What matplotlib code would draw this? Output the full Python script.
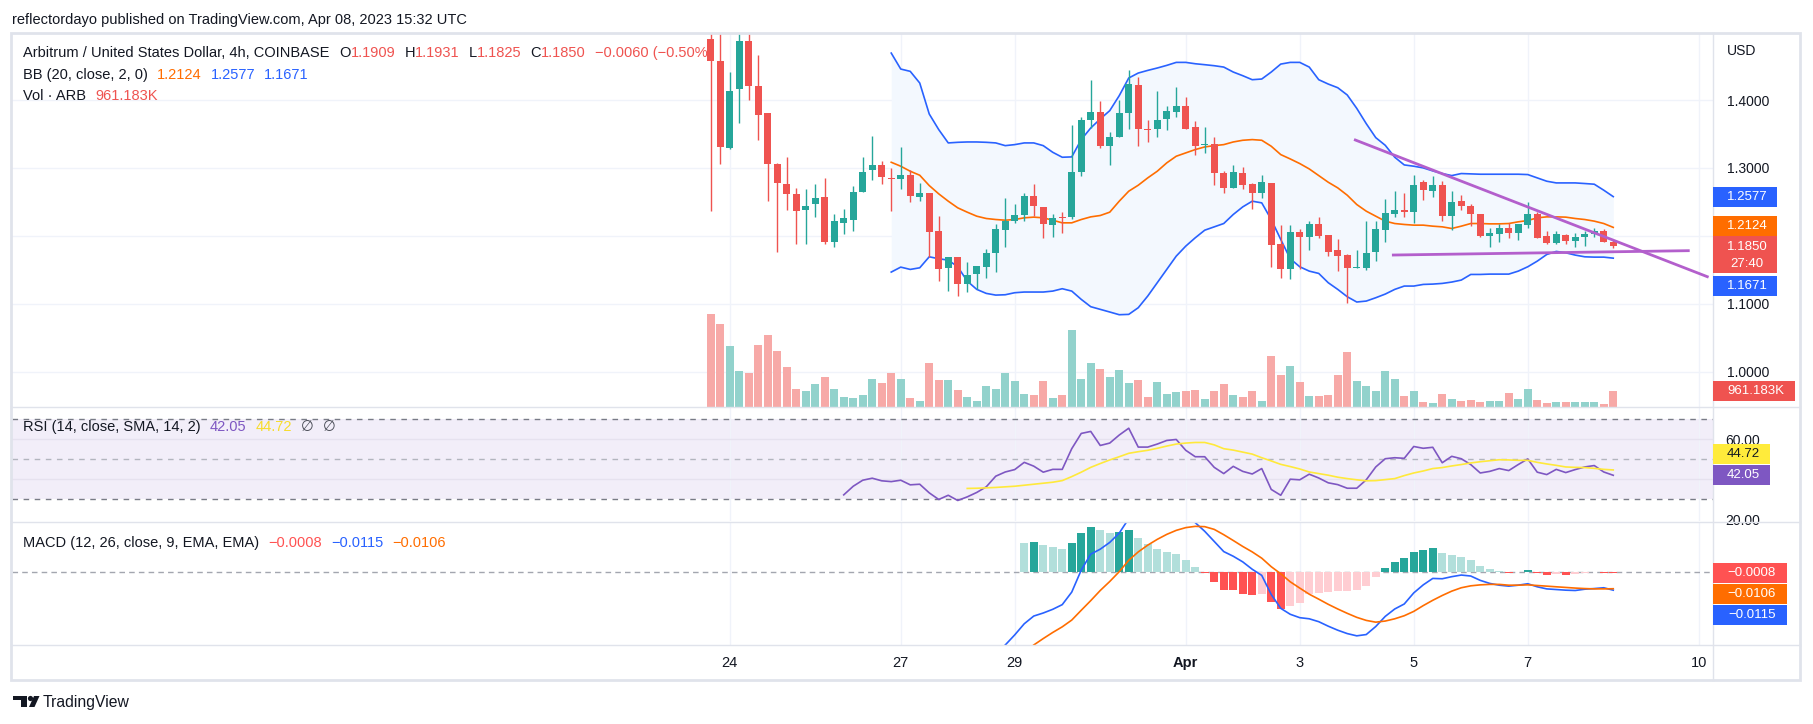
import numpy as np
import matplotlib.pyplot as plt
from matplotlib.patches import Rectangle, Polygon, Circle

plt.rcParams['font.family'] = ['Liberation Sans', 'DejaVu Sans']

# ARB/USD 4h candles, first candle = Mar 23 16:00 UTC
opens = [1.4902, 1.4578, 1.3289, 1.4167, 1.4873, 1.4211, 1.3814, 1.3064, 1.2770, 1.2623,
         1.2377, 1.2466, 1.2578, 1.1907, 1.2196, 1.2240, 1.2642, 1.2966, 1.3049, 1.2858,
         1.2833, 1.2892, 1.2569, 1.2637, 1.2064, 1.1525, 1.1681, 1.1289, 1.1431, 1.1539,
         1.1745, 1.2083, 1.2216, 1.2304, 1.2593, 1.2431, 1.2162, 1.2284, 1.2270, 1.2936,
         1.3701, 1.3828, 1.3328, 1.3451, 1.3804, 1.4225, 1.3578, 1.3569, 1.3716, 1.3828,
         1.3917, 1.3608, 1.3338, 1.3358, 1.2931, 1.2701, 1.2931, 1.2760, 1.2627, 1.2784,
         1.1873, 1.1510, 1.2049, 1.1980, 1.2167, 1.2005, 1.1784, 1.1711, 1.1525, 1.1525,
         1.1760, 1.2083, 1.2319, 1.2387, 1.2348, 1.2799, 1.2657, 1.2745, 1.2289, 1.2520,
         1.2446, 1.2314, 1.1995, 1.2020, 1.2118, 1.2039, 1.2157, 1.2314, 1.1990, 1.1897,
         1.2015, 1.1922, 1.1985, 1.2020, 1.2064, 1.1909]
highs = [1.5000, 1.5100, 1.4412, 1.5050, 1.5000, 1.4667, 1.3814, 1.3074, 1.3157, 1.2706,
         1.2696, 1.2770, 1.2858, 1.2314, 1.2402, 1.2740, 1.3167, 1.3475, 1.3108, 1.3005,
         1.3304, 1.2966, 1.2779, 1.2637, 1.2299, 1.1690, 1.1690, 1.1608, 1.1549, 1.1809,
         1.2167, 1.2559, 1.2475, 1.2637, 1.2770, 1.2431, 1.2314, 1.2353, 1.3632, 1.3750,
         1.4299, 1.3980, 1.3534, 1.4005, 1.4446, 1.4338, 1.3711, 1.4137, 1.3917, 1.4196,
         1.4049, 1.3686, 1.3608, 1.3461, 1.2961, 1.3049, 1.3010, 1.2779, 1.2902, 1.2784,
         1.2152, 1.2152, 1.2093, 1.2211, 1.2284, 1.2005, 1.1946, 1.1730, 1.1789, 1.2211,
         1.2211, 1.2549, 1.2667, 1.2627, 1.2902, 1.2828, 1.2887, 1.2804, 1.2657, 1.2608,
         1.2471, 1.2328, 1.2118, 1.2176, 1.2191, 1.2176, 1.2495, 1.2353, 1.2078, 1.2078,
         1.2029, 1.2044, 1.2064, 1.2118, 1.2103, 1.1931]
lows = [1.2363, 1.3064, 1.3280, 1.3657, 1.4005, 1.3407, 1.2510, 1.1760, 1.2387, 1.1873,
        1.1873, 1.2275, 1.1873, 1.1828, 1.2034, 1.2064, 1.2642, 1.2819, 1.2760, 1.2363,
        1.2696, 1.2495, 1.2510, 1.1691, 1.1333, 1.1186, 1.1113, 1.1172, 1.1221, 1.1377,
        1.1466, 1.1833, 1.2190, 1.2216, 1.2289, 1.1966, 1.1985, 1.2044, 1.2245, 1.2877,
        1.3583, 1.3289, 1.3049, 1.3451, 1.3578, 1.3319, 1.3377, 1.3451, 1.3554, 1.3745,
        1.3569, 1.3186, 1.3216, 1.2745, 1.2627, 1.2701, 1.2686, 1.2392, 1.2554, 1.1539,
        1.1377, 1.1363, 1.1510, 1.1789, 1.1966, 1.1701, 1.1480, 1.1010, 1.1520, 1.1500,
        1.1627, 1.1907, 1.2275, 1.2275, 1.2186, 1.2534, 1.2569, 1.2216, 1.2083, 1.2377,
        1.2142, 1.1985, 1.1833, 1.1907, 1.1971, 1.1936, 1.2118, 1.1961, 1.1873, 1.1877,
        1.1877, 1.1833, 1.1848, 1.1985, 1.1907, 1.1825]
closes = [1.4569, 1.3304, 1.4137, 1.4873, 1.4201, 1.3784, 1.3064, 1.2775, 1.2613, 1.2363,
          1.2441, 1.2564, 1.1907, 1.2211, 1.2255, 1.2652, 1.2946, 1.3049, 1.2863, 1.2833,
          1.2902, 1.2583, 1.2637, 1.2054, 1.1510, 1.1681, 1.1289, 1.1426, 1.1549, 1.1740,
          1.2093, 1.2225, 1.2309, 1.2593, 1.2436, 1.2172, 1.2265, 1.2255, 1.2946, 1.3711,
          1.3828, 1.3328, 1.3461, 1.3814, 1.4240, 1.3569, 1.3554, 1.3711, 1.3843, 1.3917,
          1.3578, 1.3328, 1.3358, 1.2922, 1.2701, 1.2946, 1.2745, 1.2627, 1.2799, 1.1863,
          1.1510, 1.2049, 1.1980, 1.2181, 1.1990, 1.1760, 1.1701, 1.1525, 1.1539, 1.1740,
          1.2093, 1.2343, 1.2387, 1.2358, 1.2745, 1.2672, 1.2745, 1.2289, 1.2505, 1.2436,
          1.2319, 1.1995, 1.2044, 1.2108, 1.2039, 1.2167, 1.2314, 1.1961, 1.1897, 1.2020,
          1.1922, 1.1985, 1.2029, 1.2064, 1.1907, 1.1850]
volume_k = [5665, 5051, 3722, 2188, 2066, 3783, 4397, 3415, 2434, 1084,
            961, 1391, 1820, 1084, 593, 532, 716, 1697, 1452, 2066,
            1697, 532, 348, 2679, 1636, 1636, 1023, 593, 348, 1268,
            1084, 2066, 1575, 777, 716, 1575, 532, 716, 4683, 1697,
            2679, 2311, 1820, 2250, 1452, 1636, 593, 1513, 777, 900,
            961, 1023, 470, 961, 1391, 716, 593, 961, 348, 3108,
            1943, 2495, 1513, 654, 654, 716, 1943, 3354, 1575, 1268,
            961, 2188, 1697, 654, 961, 286, 225, 777, 470, 348,
            409, 286, 348, 348, 838, 470, 1084, 409, 225, 286,
            286, 286, 286, 286, 164, 961.183]
change_text = '\u22120.0060 (\u22120.50%)'
countdown = '27:40'

# Bollinger Bands (20, 2), from candle 19
bb_start = 19
bb_upper = [1.4691, 1.4456, 1.4422, 1.4250, 1.3794, 1.3564, 1.3368, 1.3377, 1.3382, 1.3382,
            1.3377, 1.3368, 1.3328, 1.3343, 1.3368, 1.3368, 1.3328, 1.3230, 1.3157, 1.3162,
            1.3417, 1.3588, 1.3721, 1.3843, 1.4064, 1.4324, 1.4397, 1.4436, 1.4471, 1.4510,
            1.4554, 1.4554, 1.4534, 1.4520, 1.4505, 1.4485, 1.4412, 1.4358, 1.4299, 1.4309,
            1.4412, 1.4529, 1.4554, 1.4554, 1.4485, 1.4299, 1.4235, 1.4181, 1.4074, 1.3877,
            1.3652, 1.3446, 1.3333, 1.3157, 1.3044, 1.3025, 1.3000, 1.2956, 1.2917, 1.2887,
            1.2917, 1.2912, 1.2907, 1.2907, 1.2907, 1.2907, 1.2907, 1.2902, 1.2853, 1.2804,
            1.2779, 1.2779, 1.2779, 1.2770, 1.2760, 1.2672, 1.2577]
bb_basis = [1.3083, 1.3025, 1.2951, 1.2892, 1.2740, 1.2618, 1.2510, 1.2412, 1.2348, 1.2289,
            1.2255, 1.2240, 1.2230, 1.2240, 1.2265, 1.2275, 1.2265, 1.2230, 1.2191, 1.2191,
            1.2240, 1.2279, 1.2299, 1.2348, 1.2510, 1.2657, 1.2745, 1.2853, 1.2951, 1.3074,
            1.3172, 1.3221, 1.3270, 1.3309, 1.3328, 1.3343, 1.3382, 1.3407, 1.3417, 1.3407,
            1.3319, 1.3196, 1.3132, 1.3064, 1.2985, 1.2887, 1.2789, 1.2706, 1.2598, 1.2461,
            1.2363, 1.2289, 1.2216, 1.2181, 1.2167, 1.2157, 1.2157, 1.2142, 1.2132, 1.2108,
            1.2142, 1.2181, 1.2181, 1.2176, 1.2176, 1.2181, 1.2206, 1.2225, 1.2265, 1.2279,
            1.2279, 1.2275, 1.2255, 1.2240, 1.2216, 1.2181, 1.2124]
bb_lower = [1.1466, 1.1539, 1.1505, 1.1529, 1.1691, 1.1662, 1.1642, 1.1544, 1.1333, 1.1211,
            1.1152, 1.1127, 1.1132, 1.1162, 1.1172, 1.1172, 1.1172, 1.1186, 1.1221, 1.1186,
            1.1064, 1.0956, 1.0917, 1.0878, 1.0838, 1.0843, 1.0941, 1.1113, 1.1309, 1.1505,
            1.1701, 1.1848, 1.1971, 1.2083, 1.2132, 1.2181, 1.2314, 1.2426, 1.2510, 1.2485,
            1.2240, 1.1946, 1.1662, 1.1544, 1.1480, 1.1446, 1.1309, 1.1211, 1.1103, 1.1025,
            1.1039, 1.1088, 1.1142, 1.1211, 1.1260, 1.1260, 1.1284, 1.1289, 1.1299, 1.1319,
            1.1348, 1.1431, 1.1431, 1.1436, 1.1436, 1.1436, 1.1480, 1.1544, 1.1627, 1.1725,
            1.1770, 1.1750, 1.1716, 1.1691, 1.1686, 1.1686, 1.1671]

# RSI (14) and its SMA
rsi_start = 14
rsi = [32.3, 36.6, 39.6, 40.6, 39.3, 38.9, 39.6, 37.3, 37.6, 33.3, 30.0, 32.1,
       29.5, 31.3, 33.5, 36.3, 41.6, 43.7, 44.9, 48.5, 46.6, 43.6,
       45.0, 45.0, 55.3, 62.9, 63.9, 56.9, 58.1, 62.1, 65.5, 56.1,
       56.1, 57.6, 59.4, 59.9, 54.5, 51.3, 51.3, 46.0, 42.9, 46.5,
       44.0, 42.7, 45.4, 35.0, 32.1, 40.1, 39.8, 42.6, 40.7, 38.3,
       37.4, 35.6, 35.6, 39.8, 46.2, 50.3, 50.8, 50.5, 56.4, 55.5,
       56.0, 48.3, 51.5, 50.3, 47.4, 43.2, 44.0, 45.4, 44.4, 47.4,
       50.2, 43.6, 42.4, 45.0, 43.4, 44.9, 46.2, 46.9, 43.7, 42.05]
rsi_ma_start = 27
rsi_ma = [35.5, 35.6, 35.8, 36.0, 36.3, 36.6, 37.1, 37.6, 38.1,
          38.6, 39.4, 41.4, 43.6, 46.0, 47.9, 49.7, 51.3, 53.0, 53.8,
          54.5, 55.5, 56.6, 57.6, 58.1, 58.4, 58.4, 57.2, 55.3, 54.6,
          53.6, 52.6, 50.8, 49.2, 47.5, 46.4, 45.2, 43.7, 42.9, 42.1,
          41.1, 40.4, 39.8, 39.3, 39.4, 39.9, 40.4, 41.9, 43.2, 44.2,
          45.4, 45.9, 46.7, 47.4, 48.2, 48.8, 49.3, 49.8, 49.7, 49.5,
          49.5, 48.5, 47.7, 47.0, 46.2, 46.0, 45.9, 45.5, 45.0, 44.72]

# MACD (12, 26, 9)
macd_start = 30
macd = [-0.0508, -0.0456, -0.0393, -0.0324, -0.0276, -0.0257, -0.0234, -0.0205, -0.0127, 0.0010,
        0.0109, 0.0140, 0.0182, 0.0240, 0.0330, 0.0332, 0.0336, 0.0341, 0.0353, 0.0366,
        0.0345, 0.0305, 0.0251, 0.0188, 0.0125, 0.0096, 0.0061, 0.0015, -0.0023, -0.0142,
        -0.0228, -0.0265, -0.0286, -0.0293, -0.0311, -0.0339, -0.0364, -0.0385, -0.0399, -0.0391,
        -0.0341, -0.0278, -0.0232, -0.0201, -0.0132, -0.0082, -0.0042, -0.0044, -0.0031, -0.0021,
        -0.0027, -0.0054, -0.0073, -0.0084, -0.0090, -0.0084, -0.0075, -0.0094, -0.0107, -0.0111,
        -0.0115, -0.0117, -0.0109, -0.0105, -0.0100, -0.0115]
signal_start = 34
signal = [-0.0456, -0.0416, -0.0378, -0.0343, -0.0301, -0.0240, -0.0180, -0.0117, -0.0061, 0.0000,
          0.0071, 0.0123, 0.0165, 0.0201, 0.0232, 0.0257, 0.0274, 0.0282, 0.0280, 0.0263,
          0.0230, 0.0194, 0.0157, 0.0123, 0.0084, 0.0031, -0.0013, -0.0063, -0.0102, -0.0140,
          -0.0171, -0.0203, -0.0232, -0.0259, -0.0284, -0.0303, -0.0314, -0.0307, -0.0293, -0.0274,
          -0.0247, -0.0211, -0.0178, -0.0148, -0.0121, -0.0100, -0.0088, -0.0082, -0.0079, -0.0079,
          -0.0084, -0.0084, -0.0082, -0.0086, -0.0090, -0.0094, -0.0098, -0.0102, -0.0105, -0.0107,
          -0.0107, -0.0106]
hist_start = 33
hist = [0.0178, 0.0184, 0.0165, 0.0153, 0.0140, 0.0178, 0.0240, 0.0278, 0.0259, 0.0240,
        0.0247, 0.0259, 0.0209, 0.0171, 0.0140, 0.0121, 0.0109, 0.0071, 0.0027, -0.0010,
        -0.0065, -0.0111, -0.0117, -0.0136, -0.0142, -0.0136, -0.0186, -0.0230, -0.0211, -0.0192,
        -0.0136, -0.0134, -0.0124, -0.0122, -0.0120, -0.0111, -0.0086, -0.0036, 0.0021, 0.0061,
        0.0084, 0.0121, 0.0134, 0.0146, 0.0117, 0.0105, 0.0092, 0.0071, 0.0033, 0.0015,
        0.0004, -0.0006, -0.0004, 0.0013, -0.0008, -0.0019, -0.0013, -0.0021, -0.0013, -0.0008,
        -0.0004, -0.0006, -0.0008]

# time axis (candle index of each day label) and drawn trend lines
day_ticks = [2, 20, 32, 50, 62, 74, 86, 104]
day_labels = ['24', '27', '29', 'Apr', '3', '5', '7', '10']
trend_down_x = [67.85, 104.9]
trend_down_y = [1.3411, 1.1398]
trend_flat_x = [71.85, 102.9]
trend_flat_y = [1.1717, 1.1781]

TEXT = '#131722'
GRID = '#f0f3fa'
FRAME = '#e0e3eb'
UP, DOWN = '#26a69a', '#ef5350'
BLUE, ORANGE, PURPLE = '#2962ff', '#ff6d00', '#7e57c2'
TREND = '#b35fcc'

W, H = 1813, 724
fig = plt.figure(figsize=(W / 100, H / 100), dpi=100)


def rect(l, t, r, b):
    return [l / W, 1 - b / H, (r - l) / W, (b - t) / H]


ax = fig.add_axes(rect(12, 34, 1713, 407))
axr = fig.add_axes(rect(12, 407, 1713, 521))
axm = fig.add_axes(rect(12, 522, 1713, 645))

for a in (ax, axr, axm):
    a.set_xlim(-73.55, 105.5)
    for s in a.spines.values():
        s.set_visible(False)
    a.set_xticks(day_ticks)
    a.grid(axis='x', color=GRID, lw=1)
    a.set_axisbelow(True)
    a.tick_params(length=0, labelsize=10, labelcolor=TEXT)
ax.tick_params(labelbottom=False)
axr.tick_params(labelbottom=False)

# ---- price pane ----
idx = np.arange(len(closes))
o, hi, lo, c = map(np.array, (opens, highs, lows, closes))
up = c >= o
cols = np.where(up, UP, DOWN)
bb_x = np.arange(bb_start, bb_start + len(bb_basis))
ax.fill_between(bb_x, bb_upper, bb_lower, color='#f3f8fe', lw=0, zorder=1)
ax.vlines(idx, lo, hi, colors=cols, lw=1, zorder=3)
ax.bar(idx, np.maximum(np.abs(c - o), 0.0012), bottom=np.minimum(o, c), width=0.7,
       color=cols, zorder=3)
ax.plot(bb_x, bb_upper, color=BLUE, lw=1.2, zorder=2)
ax.plot(bb_x, bb_lower, color=BLUE, lw=1.2, zorder=2)
ax.plot(bb_x, bb_basis, color=ORANGE, lw=1.2, zorder=2)
ax.plot(trend_down_x, trend_down_y, color=TREND, lw=2, zorder=4)
ax.plot(trend_flat_x, trend_flat_y, color=TREND, lw=2, zorder=4)

axv = ax.twinx()
axv.bar(idx, volume_k, width=0.86, color=np.where(up, '#92d2cc', '#f7a9a7'))
axv.set_ylim(0, 22830)
axv.axis('off')

ax.set_ylim(0.9479, 1.4972)
ax.yaxis.tick_right()
ax.set_yticks([1.0, 1.1, 1.2, 1.3, 1.4])
ax.set_yticklabels([f'{v:.4f}' for v in [1.0, 1.1, 1.2, 1.3, 1.4]])
ax.tick_params(axis='y', pad=10)
ax.grid(axis='y', color=GRID, lw=1)

# ---- RSI pane ----
axr.set_ylim(19.28, 76.07)
axr.axhspan(30, 70, color='#f2eef9', lw=0, zorder=0)
for lvl in (40, 60):
    axr.axhline(lvl, color='#e6e2ef', lw=1, zorder=0.6)
axr.axhline(70, color='#787b86', lw=1, dashes=(4, 4), zorder=0.7)
axr.axhline(30, color='#787b86', lw=1, dashes=(4, 4), zorder=0.7)
axr.axhline(50, color='#b2b5be', lw=1, dashes=(4, 4), zorder=0.7)
axr.plot(np.arange(rsi_start, rsi_start + len(rsi)), rsi, color=PURPLE, lw=1.2)
axr.plot(np.arange(rsi_ma_start, rsi_ma_start + len(rsi_ma)), rsi_ma, color='#ffe93b', lw=1.2)
axr.yaxis.tick_right()
axr.set_yticks([20, 60])
axr.set_yticklabels(['20.00', '60.00'])
axr.tick_params(axis='y', pad=9)

# ---- MACD pane ----
axm.set_ylim(-0.0456, 0.0309)
axm.set_yticks([])
axm.axhline(0, color='#a3a6af', lw=1, dashes=(4, 3), zorder=0.7)
hist_cols = []
for k, h in enumerate(hist):
    rising = k > 0 and h > hist[k - 1]
    if h >= 0:
        hist_cols.append('#26a69a' if rising else '#b2dfdb')
    else:
        hist_cols.append('#ffcdd2' if rising else '#ff5252')
axm.bar(np.arange(hist_start, hist_start + len(hist)), hist, width=0.8, color=hist_cols)
axm.plot(np.arange(macd_start, macd_start + len(macd)), macd, color=BLUE, lw=1.2)
axm.plot(np.arange(signal_start, signal_start + len(signal)), signal, color=ORANGE, lw=1.2)
axm.set_xticklabels(day_labels)
axm.tick_params(axis='x', pad=8, labelsize=10.5)
axm.get_xticklabels()[3].set_fontweight('bold')

# ---- overlay: frame, legends, axis tags ----
ov = fig.add_axes([0, 0, 1, 1])
ov.set_xlim(0, W)
ov.set_ylim(H, 0)
ov.axis('off')

ov.add_patch(Rectangle((11, 33), 1789, 647, fill=False, ec=FRAME, lw=2))
ov.plot([1713, 1713], [33, 680], color=FRAME, lw=1)
for yy in (407, 521.5, 645):
    ov.plot([11, 1800], [yy, yy], color=FRAME, lw=1)

ov.text(12, 20, 'reflectordayo published on TradingView.com, Apr 08, 2023 15:32 UTC',
        fontsize=10.5, color=TEXT, va='center')
ov.text(1727, 51, 'USD', fontsize=10, color=TEXT, va='center')


def legend(x, y, parts):
    t = ov.text(x, y, parts[0][0], color=parts[0][1], fontsize=10.5, va='center')
    for s, col, gap in parts[1:]:
        t = ov.annotate(s, xy=(1, 0.5), xycoords=t, xytext=(gap, 0), textcoords='offset pixels',
                        va='center', ha='left', color=col, fontsize=10.5)


def fmt(v, n=4):
    return f'{v:.{n}f}'.replace('-', '\u2212')


legend(23, 53, [('Arbitrum / United States Dollar, 4h, COINBASE', TEXT),
                ('O', TEXT, 10), (fmt(opens[-1]), DOWN, 0),
                ('H', TEXT, 9), (fmt(highs[-1]), DOWN, 0),
                ('L', TEXT, 9), (fmt(lows[-1]), DOWN, 0),
                ('C', TEXT, 9), (fmt(closes[-1]), DOWN, 0),
                (change_text, DOWN, 9)])
legend(23, 75, [('BB (20, close, 2, 0)', TEXT), (fmt(bb_basis[-1]), ORANGE, 9),
                (fmt(bb_upper[-1]), BLUE, 9), (fmt(bb_lower[-1]), BLUE, 9)])
legend(23, 96, [('Vol \u00b7 ARB', TEXT), ('961.183K', DOWN, 9)])
legend(23, 427, [('RSI (14, close, SMA, 14, 2)', TEXT), (fmt(rsi[-1], 2), PURPLE, 9),
                 (fmt(rsi_ma[-1], 2), '#f7dc2c', 9), ('\u2205', '#4a4d57', 9), ('\u2205', '#4a4d57', 9)])
legend(23, 543, [('MACD (12, 26, close, 9, EMA, EMA)', TEXT), (fmt(hist[-1]), '#ff5252', 9),
                 (fmt(macd[-1]), BLUE, 9), (fmt(signal[-1]), ORANGE, 9)])


def ypix(a, v):
    return H - a.transData.transform((0, v))[1]


def tag(y, text, fc, x1=1777, tc='white', h=20):
    ov.add_patch(Rectangle((1713, y - h / 2), x1 - 1713, h, fc=fc, ec='none', zorder=5))
    ov.text((1713 + x1) / 2 + 2, y, text, color=tc, ha='center', va='center',
            fontsize=9.5, zorder=6)


tag(ypix(ax, bb_upper[-1]), fmt(bb_upper[-1]), BLUE)
tag(ypix(ax, bb_basis[-1]) - 1, fmt(bb_basis[-1]), ORANGE)
yc = ypix(ax, closes[-1])
ov.add_patch(Rectangle((1713, yc - 10), 64, 37, fc=DOWN, ec='none', zorder=5))
ov.text(1747, yc + 1.5, fmt(closes[-1]), color='white', ha='center', va='center', fontsize=9.5, zorder=6)
ov.text(1747, yc + 18.5, countdown, color='white', ha='center', va='center', fontsize=9.5, zorder=6)
tag(ypix(ax, bb_lower[-1]) + 28, fmt(bb_lower[-1]), BLUE)
tag(ypix(axv, volume_k[-1]), '961.183K', DOWN, x1=1795)

tag(ypix(axr, rsi[-1]), fmt(rsi[-1], 2), PURPLE, x1=1770)
tag(ypix(axr, rsi_ma[-1]) - 16, fmt(rsi_ma[-1], 2), '#ffeb3b', x1=1770, tc=TEXT)

tag(ypix(axm, hist[-1]), fmt(hist[-1]), '#ff5252', x1=1787)
tag(ypix(axm, signal[-1]) + 5, fmt(signal[-1]), ORANGE, x1=1787)
tag(ypix(axm, macd[-1]) + 25, fmt(macd[-1]), BLUE, x1=1787)

# TradingView logo
ov.add_patch(Polygon([(13, 696), (27, 696), (27, 707), (21, 707), (21, 700), (13, 700)],
                     fc=TEXT, ec='none'))
ov.add_patch(Circle((30.5, 698.5), 2.6, fc=TEXT, ec='none'))
ov.add_patch(Polygon([(29, 707), (34.5, 707), (39.5, 696), (34, 696)], fc=TEXT, ec='none'))
ov.text(43, 702, 'TradingView', fontsize=11.3, color=TEXT, va='center')

fig.savefig('out.png', dpi=100)
